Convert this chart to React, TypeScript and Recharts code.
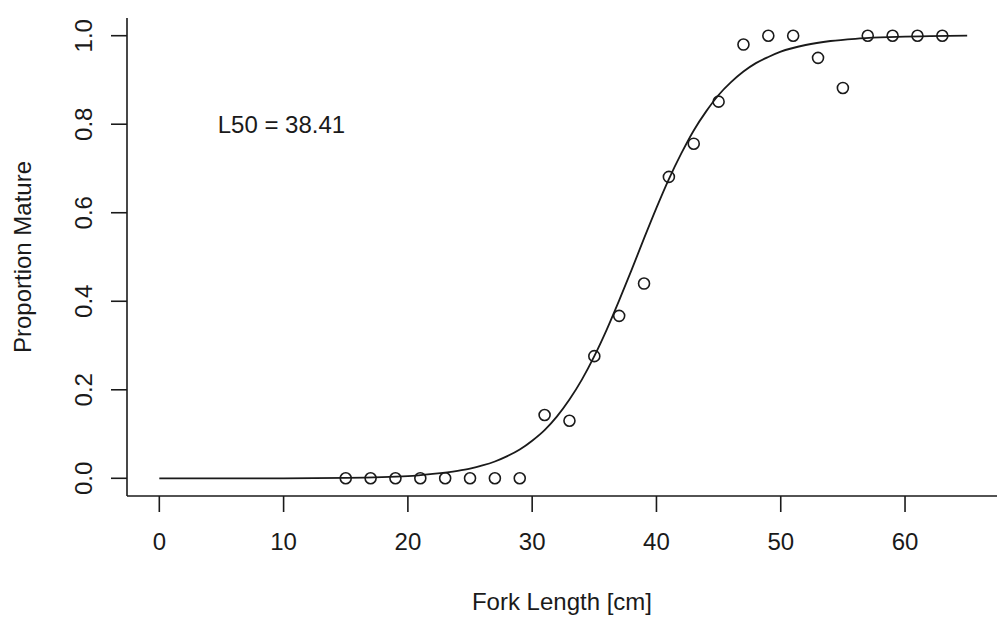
import {
  ComposedChart,
  Line,
  Scatter,
  XAxis,
  YAxis,
  Label,
  ReferenceDot,
} from "recharts";

// observed proportions by 2 cm length bin
const lengthBins = [15, 17, 19, 21, 23, 25, 27, 29, 31, 33, 35, 37, 39, 41, 43, 45, 47, 49, 51, 53, 55, 57, 59, 61, 63];
const propMature = [0, 0, 0, 0, 0, 0, 0, 0, 0.143, 0.13, 0.276, 0.367, 0.44, 0.681, 0.756, 0.851, 0.98, 1, 1, 0.95, 0.882, 1, 1, 1, 1];

// fitted ogive
const curveX = [0, 5, 10, 15, 20, 22, 24, 25, 26, 27, 28, 29, 30, 31, 32, 33, 34, 35, 36, 37, 38, 39, 40, 41, 42, 43, 44, 45, 46, 47, 48, 49, 50, 52, 54, 56, 58, 60, 62, 65];
const curveY = [0, 0, 0, 0.001, 0.005, 0.01, 0.017, 0.022, 0.029, 0.038, 0.05, 0.065, 0.085, 0.109, 0.14, 0.178, 0.223, 0.276, 0.336, 0.402, 0.471, 0.542, 0.611, 0.676, 0.734, 0.786, 0.829, 0.866, 0.895, 0.919, 0.938, 0.952, 0.964, 0.979, 0.988, 0.993, 0.996, 0.998, 0.999, 1];

const xTicks = [0, 10, 20, 30, 40, 50, 60];
const yTicks = [0, 0.2, 0.4, 0.6, 0.8, 1.0];

const l50Text = "L50 = 38.41";
const l50Pos = { x: 4.7, y: 0.78 };

const points = lengthBins.map((x, i) => ({ x, y: propMature[i] }));
const curve = curveX.map((x, i) => ({ x, y: curveY[i] }));

const FONT = "'Liberation Sans', Arial, sans-serif";
const INK = "#1a1a1a";

const YTick = ({ x, y, payload }: any) => (
  <text
    transform={`translate(${x - 18}, ${y}) rotate(-90)`}
    textAnchor="middle"
    dominantBaseline="central"
    fontSize={24}
    fontFamily={FONT}
    fill={INK}
  >
    {Number(payload.value).toFixed(1)}
  </text>
);

const Circle = ({ cx, cy }: any) => (
  <circle cx={cx} cy={cy} r={5.5} fill="none" stroke={INK} strokeWidth={1.6} />
);

export default function App() {
  return (
    <div style={{ position: "fixed", left: 0, top: 0, background: "#fff" }}>
      <ComposedChart
        width={997}
        height={622}
        margin={{ top: 18, right: 0, bottom: 0, left: 0 }}
      >
        <XAxis
          type="number"
          dataKey="x"
          domain={[-2.6, 67.4]}
          ticks={xTicks}
          allowDataOverflow
          height={126}
          tickSize={16}
          tickMargin={21}
          stroke={INK}
          strokeWidth={1.6}
          tick={{ fontSize: 24, fontFamily: FONT, fill: INK }}
        >
          <Label
            value="Fork Length [cm]"
            position="insideBottom"
            offset={12}
            style={{ fontSize: 24, fontFamily: FONT, fill: INK }}
          />
        </XAxis>
        <YAxis
          type="number"
          dataKey="y"
          domain={[-0.04, 1.04]}
          ticks={yTicks}
          allowDataOverflow
          width={127}
          tickSize={16}
          tickMargin={10}
          stroke={INK}
          strokeWidth={1.6}
          tick={<YTick />}
        >
          <Label
            value="Proportion Mature"
            angle={-90}
            position="insideLeft"
            offset={22}
            style={{ fontSize: 24, fontFamily: FONT, fill: INK, textAnchor: "middle" }}
          />
        </YAxis>
        <Line
          data={curve}
          dataKey="y"
          type="monotone"
          stroke={INK}
          strokeWidth={1.8}
          dot={false}
          activeDot={false}
          isAnimationActive={false}
        />
        <Scatter
          data={points}
          dataKey="y"
          shape={<Circle />}
          isAnimationActive={false}
        />
        <ReferenceDot
          x={l50Pos.x}
          y={l50Pos.y}
          r={0}
          fill="none"
          stroke="none"
          label={(props: any) => (
            <text
              x={props.viewBox.x}
              y={props.viewBox.y}
              fontSize={24}
              fontFamily={FONT}
              fill={INK}
              textAnchor="start"
            >
              {l50Text}
            </text>
          )}
        />
      </ComposedChart>
    </div>
  );
}
